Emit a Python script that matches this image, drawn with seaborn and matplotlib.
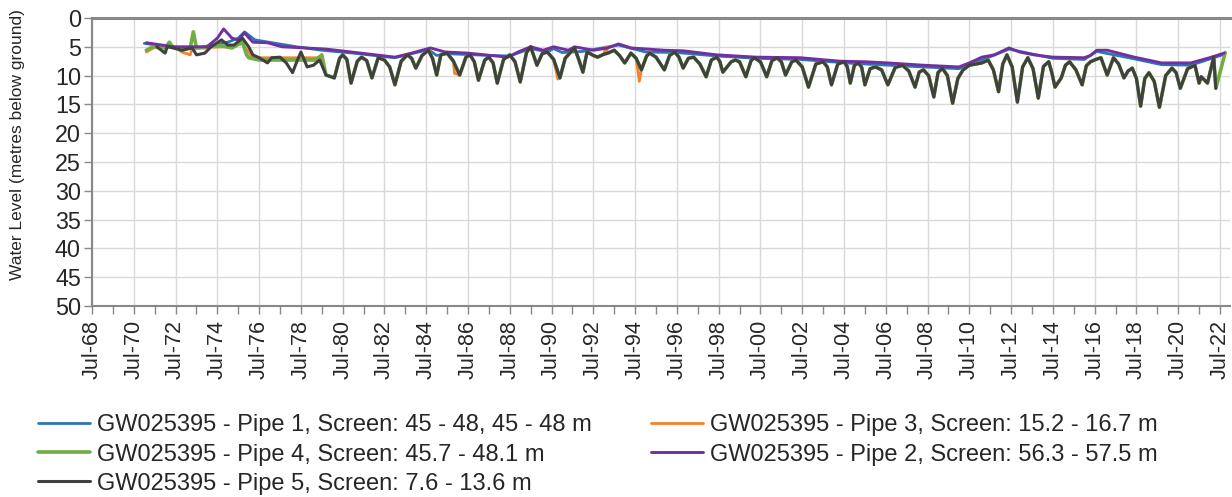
import matplotlib
matplotlib.use("Agg")
import matplotlib.pyplot as plt                                      # Drawing the figure.
import seaborn as sns                                                # Line plotting.
import pandas as pd                                                  # Building tables for seaborn.
from matplotlib.ticker import MultipleLocator, FixedLocator

# ============================================================ #
# DATA (decimal year, metres below ground)  #
# ============================================================ #

pipe1_years = [1971.0, 1972.0, 1973.0, 1974.0, 1974.6, 1975.0, 1975.5, 1975.8, 1976.3, 1977.3,
               1978.3, 1979.5, 1981.0, 1983.0, 1984.6, 1985.0, 1985.5, 1987.5, 1988.5, 1989.5,
               1990.3, 1990.6, 1991.0, 1992.0, 1993.7, 1995.0, 1996.5, 1998.4, 2000.3, 2002.4,
               2005.0, 2008.3, 2010.0, 2011.1, 2012.4, 2014.5, 2016.0, 2016.6, 2018.4, 2019.7,
               2021.1, 2022.7]
pipe1_level = [4.4, 4.9, 5.2, 5.2, 4.5, 4.2, 3.5, 2.4, 3.8, 4.4,
               5.0, 5.6, 6.1, 6.9, 5.5, 6.5, 6.2, 6.5, 6.6, 5.3,
               5.9, 5.3, 6.0, 5.8, 4.7, 5.9, 6.0, 6.6, 7.0, 7.2,
               7.9, 8.5, 8.8, 7.3, 5.4, 7.0, 7.2, 5.8, 7.1, 8.1,
               8.2, 6.3]

pipe2_years = [1971.1, 1972.4, 1974.0, 1974.5, 1974.8, 1975.2, 1975.5, 1975.8, 1976.2, 1976.9,
               1977.6, 1978.7, 1979.7, 1980.9, 1983.0, 1983.8, 1984.7, 1985.4, 1986.5, 1988.4,
               1988.9, 1989.5, 1990.1, 1990.6, 1991.3, 1991.6, 1992.5, 1993.2, 1993.7, 1994.3,
               1995.9, 1996.8, 1998.4, 2000.3, 2002.4, 2004.3, 2005.5, 2006.6, 2008.3, 2010.0,
               2010.5, 2011.1, 2011.7, 2012.4, 2012.9, 2013.6, 2014.5, 2016.0, 2016.3, 2016.6,
               2017.1, 2018.4, 2019.7, 2021.1, 2022.0, 2022.7]
pipe2_level = [4.3, 5.0, 5.0, 3.5, 1.9, 3.5, 3.8, 2.6, 4.2, 4.3,
               5.0, 5.2, 5.4, 5.9, 6.8, 6.1, 5.2, 5.9, 6.1, 6.8,
               5.9, 5.0, 5.6, 5.0, 5.6, 5.0, 5.6, 5.2, 4.5, 5.2,
               5.6, 5.7, 6.4, 6.8, 6.9, 7.5, 7.6, 7.8, 8.2, 8.5,
               7.8, 6.8, 6.4, 5.2, 5.9, 6.4, 6.8, 6.9, 6.5, 5.6,
               5.6, 6.8, 7.8, 7.8, 6.9, 6.1]

pipe5_years = [1971.6, 1972.0, 1972.1, 1972.4, 1972.8, 1973.3, 1973.5, 1973.9, 1974.2, 1974.7,
               1975.0, 1975.3, 1975.7, 1976.0, 1976.2, 1976.5, 1976.9, 1977.1, 1977.5, 1977.8,
               1978.1, 1978.3, 1978.5, 1978.8, 1979.1, 1979.4, 1979.7,
               1980.1, 1980.35, 1980.5, 1980.7, 1980.9, 1981.2, 1981.4, 1981.65, 1981.9, 1982.2,
               1982.5, 1982.75, 1983.0, 1983.3, 1983.6, 1983.8, 1984.0, 1984.3, 1984.6, 1984.8,
               1985.0, 1985.2, 1985.5, 1985.8, 1986.1, 1986.4, 1986.6, 1986.8, 1987.0, 1987.3,
               1987.5, 1987.7, 1987.9, 1988.2, 1988.5, 1988.75, 1989.0, 1989.3, 1989.5, 1989.8,
               1990.05, 1990.3, 1990.6, 1990.9, 1991.15, 1991.3, 1991.6, 1991.8, 1992.0, 1992.2,
               1992.5, 1992.7, 1993.0, 1993.2, 1993.5, 1993.75, 1994.0, 1994.3, 1994.55, 1994.8,
               1995.05, 1995.2, 1995.5, 1995.9, 1996.15, 1996.4, 1996.6, 1996.8, 1997.05, 1997.3,
               1997.6, 1997.9, 1998.15, 1998.4, 1998.55, 1998.7, 1999.1, 1999.3, 1999.5, 1999.8,
               2000.05, 2000.2, 2000.5, 2000.8, 2001.05, 2001.3, 2001.5, 2001.7, 2002.0, 2002.2,
               2002.5, 2002.8, 2003.15, 2003.5, 2003.7, 2003.9, 2004.2, 2004.5, 2004.65, 2004.8,
               2005.0, 2005.2, 2005.35, 2005.5, 2005.75, 2006.0, 2006.3, 2006.6, 2006.95, 2007.3,
               2007.6, 2007.9, 2008.1, 2008.3, 2008.55, 2008.8, 2009.0, 2009.2, 2009.45, 2009.7,
               2009.95, 2010.2, 2010.5, 2010.8, 2011.1, 2011.4, 2011.65, 2011.9, 2012.1, 2012.3,
               2012.55, 2012.8, 2013.05, 2013.3, 2013.55, 2013.8, 2014.05, 2014.3, 2014.45, 2014.6,
               2014.9, 2015.1, 2015.3, 2015.6, 2015.9, 2016.1, 2016.3, 2016.55, 2016.8, 2017.1,
               2017.4, 2017.65, 2017.9, 2018.1, 2018.3, 2018.5, 2018.7, 2018.9, 2019.1, 2019.35,
               2019.6, 2019.9, 2020.2, 2020.4, 2020.6, 2020.95, 2021.3, 2021.5, 2021.6, 2021.9,
               2022.2, 2022.3]
pipe5_level = [5.0, 6.1, 5.0, 5.2, 5.6, 5.2, 6.4, 6.1, 5.0, 3.8,
               4.7, 4.7, 3.5, 5.0, 6.4, 6.9, 7.8, 6.9, 6.8, 7.8,
               9.5, 7.6, 5.9, 8.5, 8.2, 7.3, 9.9,
               10.4, 7.0, 6.4, 7.2, 11.3, 7.5, 6.8, 7.4, 10.4, 6.9,
               7.3, 8.5, 11.6, 7.5, 6.4, 7.0, 8.7, 6.5, 5.6, 7.0,
               9.9, 6.4, 6.1, 7.5, 9.9, 6.8, 6.4, 7.6, 10.8, 7.3,
               6.8, 7.8, 11.3, 7.2, 6.4, 7.6, 11.1, 6.0, 5.0, 8.2,
               6.2, 5.9, 7.2, 10.4, 7.0, 6.4, 5.2, 7.2, 9.4, 5.9,
               6.5, 6.8, 6.3, 6.1, 5.6, 6.5, 7.8, 6.1, 7.0, 9.0,
               6.6, 6.1, 6.8, 9.0, 6.5, 5.9, 6.8, 8.7, 7.0, 6.8,
               8.0, 10.2, 7.3, 6.8, 7.5, 9.4, 7.6, 7.3, 7.6, 10.2,
               7.4, 6.9, 7.6, 10.2, 7.4, 6.9, 7.6, 9.9, 7.6, 7.3,
               8.5, 12.0, 8.0, 7.6, 8.5, 11.6, 8.0, 7.6, 8.4, 11.3,
               8.2, 7.8, 8.6, 11.6, 8.8, 8.5, 9.0, 11.6, 8.6, 8.2,
               9.2, 12.0, 9.4, 9.0, 10.0, 13.7, 9.5, 8.7, 10.0, 14.8,
               10.5, 9.0, 8.2, 8.0, 7.8, 7.3, 9.0, 12.8, 8.0, 6.4,
               8.5, 14.6, 8.5, 6.9, 8.8, 13.9, 8.4, 7.6, 9.5, 12.0,
               10.4, 8.2, 7.6, 9.0, 11.6, 8.3, 7.6, 7.2, 6.9, 9.9,
               6.9, 8.0, 10.4, 9.2, 8.7, 10.5, 15.3, 10.5, 9.5, 11.0,
               15.5, 10.0, 8.7, 9.5, 12.2, 8.8, 8.2, 11.3, 10.2, 11.3,
               6.8, 12.2]

pipe4_early_years = [1971.1, 1971.4, 1972.0, 1972.2, 1972.4, 1973.2, 1973.35, 1973.5, 1974.5, 1975.2,
                     1975.7, 1975.9, 1976.0, 1976.5, 1979.2, 1979.5]
pipe4_early_level = [5.6, 5.0, 5.2, 4.2, 5.2, 5.2, 2.4, 5.2, 4.7, 5.2,
                     4.2, 6.4, 6.9, 7.3, 7.3, 6.4]
pipe4_last_year = [2022.75]                                          # green outlasts pipe 5 at the right edge
pipe4_last_level = [6.0]

pipe3_early_years = [1971.1, 1971.7, 1972.5, 1972.8, 1973.2, 1973.3, 1974.9, 1975.7, 1976.2, 1979.4]
pipe3_early_level = [5.9, 4.7, 5.2, 5.9, 6.4, 5.2, 5.0, 4.5, 6.9, 6.9]
pipe3_spike_years = [1985.85, 1990.8, 1993.1, 1994.7, 1998.6]       # orange spikes that show past pipe 5
pipe3_spike_level = [9.6, 10.6, 5.0, 11.0, 8.4]

labels = {
    "p1": "GW025395 - Pipe 1, Screen: 45 - 48, 45 - 48 m",
    "p3": "GW025395 - Pipe 3, Screen: 15.2 - 16.7 m",
    "p4": "GW025395 - Pipe 4, Screen: 45.7 - 48.1 m",
    "p2": "GW025395 - Pipe 2, Screen: 56.3 - 57.5 m",
    "p5": "GW025395 - Pipe 5, Screen: 7.6 - 13.6 m",
}
colors = {"p1": "#2E75B6", "p3": "#F5822A", "p4": "#70AD47", "p2": "#7030A0", "p5": "#404040"}

# ============================================================ #
# TABLES: pipes 3 and 4 follow pipe 5 once its record starts   #
# ============================================================ #

df_p5 = pd.DataFrame({"Year": pipe5_years, "Level": pipe5_level})
df_p4 = pd.concat([pd.DataFrame({"Year": pipe4_early_years, "Level": pipe4_early_level}),
                   df_p5[df_p5["Year"] > 1979.6],
                   pd.DataFrame({"Year": pipe4_last_year, "Level": pipe4_last_level})], ignore_index=True)
df_p3 = pd.concat([pd.DataFrame({"Year": pipe3_early_years, "Level": pipe3_early_level}),
                   df_p5[df_p5["Year"] > 1979.5],
                   pd.DataFrame({"Year": pipe3_spike_years, "Level": pipe3_spike_level})],
                  ignore_index=True).sort_values("Year")
df_p1 = pd.DataFrame({"Year": pipe1_years, "Level": pipe1_level})
df_p2 = pd.DataFrame({"Year": pipe2_years, "Level": pipe2_level})

sns.set_theme(style="white")
plt.rcParams["font.family"] = ["Liberation Sans", "DejaVu Sans"]

fig = plt.figure(figsize=(12.32, 4.97), dpi=100)
ax = fig.add_axes([0.0747, 0.3843, 0.9237, 0.5795])                  # plot area runs a little past the last tick

series = [("p1", df_p1, 2.0), ("p3", df_p3, 2.0), ("p4", df_p4, 2.6), ("p2", df_p2, 2.1), ("p5", df_p5, 2.2)]
handles = {}
for key, df, lw in series:                                           # Draw order matches the Excel series order
    sns.lineplot(data=df, x="Year", y="Level", ax=ax, color=colors[key], linewidth=lw,
                 estimator=None, sort=False, label=labels[key])
    ax.lines[-1].set_solid_joinstyle("round")
    handles[key] = ax.lines[-1]
ax.get_legend().remove()

# Axes: inverted depth scale, July ticks every two years
ax.set_xlim(1968.5, 2022.98)
ax.set_ylim(50, 0)
ax.yaxis.set_major_locator(MultipleLocator(5))
tick_years = list(range(1968, 2023, 2))
ax.xaxis.set_major_locator(FixedLocator([y + 0.5 for y in tick_years]))
ax.xaxis.set_minor_locator(FixedLocator([y + 0.5 for y in range(1969, 2022, 2)]))
ax.set_xticklabels([f"Jul-{y % 100:02d}" for y in tick_years], rotation=90, fontsize=15.5)
ax.tick_params(axis="y", labelsize=16.8, length=6, width=1, color="#888888", direction="out", left=True, pad=2)
ax.tick_params(axis="x", which="both", length=6, width=1, color="#888888", direction="out", bottom=True, pad=4)
ax.set_xlabel("")
ax.set_ylabel("Water Level (metres below ground)", fontsize=12.5)
ax.yaxis.set_label_coords(-0.059, 0.56)

ax.grid(True, which="major", color="#d9d9d9", linewidth=1)
for side in ["left", "bottom", "top"]:
    ax.spines[side].set_color("#888888")
    ax.spines[side].set_linewidth(1.5)
ax.spines["top"].set_linewidth(2.2)
ax.spines["right"].set_visible(False)

order = ["p1", "p4", "p5", "p3", "p2"]
fig.legend([handles[k] for k in order], [labels[k] for k in order], ncol=2,
           loc="upper left", bbox_to_anchor=(0.023, 0.185), frameon=False, fontsize=17,
           handlelength=2.2, handletextpad=0.3, columnspacing=2.5, labelspacing=0.3,
           borderaxespad=0)

fig.savefig("out.png", dpi=100)
